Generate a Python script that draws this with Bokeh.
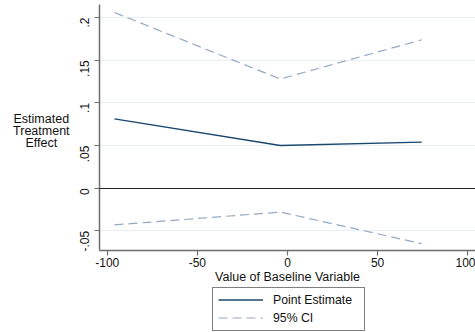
import math
from bokeh.plotting import figure
from bokeh.models import (Range1d, FixedTicker, Legend, LegendItem, Grid, Label)
from bokeh.embed import file_html
from bokeh.resources import INLINE

# Data
baseline = [-96, -4, 74.5]
point_estimate = [0.0813, 0.050, 0.054]
ci_upper = [0.206, 0.128, 0.174]
ci_lower = [-0.043, -0.028, -0.065]

y_ticks = [-0.05, 0.0, 0.05, 0.1, 0.15, 0.2]
y_tick_labels = ["-.05", "0", ".05", ".1", ".15", ".2"]
x_ticks = [-100, -50, 0, 50, 100]
x_tick_labels = ["-100", "-50", "0", "50", "100"]
y_title_lines = ["Estimated", "Treatment", "Effect"]

# plot region in data units, plus room to the left (axis labels) and below (legend)
X_MIN, X_MAX = -104.3, 104.3
X_FRAME_LEFT = -159.22
Y_FRAME_TOP, Y_TOP, Y_AXIS = 0.22005, 0.21536, -0.07304
Y_FRAME_BOTTOM = -0.16917

FONT = "Liberation Sans"
NAVY = "#1a476f"
CI_COL = "#93a9c2"
AXIS_COL = "#6e6e6e"

p = figure(width=475, height=332, output_backend="svg", toolbar_location=None,
           x_range=Range1d(X_FRAME_LEFT, X_MAX), y_range=Range1d(Y_FRAME_BOTTOM, Y_FRAME_TOP),
           min_border_left=0, min_border_right=0, min_border_top=0, min_border_bottom=0)
p.outline_line_color = None
p.background_fill_color = "white"
p.border_fill_color = "white"

# grid
p.xgrid.visible = False
yg = p.ygrid[0]
yg.ticker = FixedTicker(ticks=[t for t in y_ticks if t != 0])
yg.grid_line_color = "#e6eff1"
yg.grid_line_width = 1
yg.cross_bounds = (X_MIN, X_MAX)

# zero line
zero = Grid(dimension=1, ticker=FixedTicker(ticks=[0]), grid_line_color="#222222",
            grid_line_width=1.2, cross_bounds=(X_MIN, X_MAX), level="guide")
p.add_layout(zero)

# axes
for ax in (p.xaxis[0], p.yaxis[0]):
    ax.axis_line_color = AXIS_COL
    ax.axis_line_width = 1.5
    ax.major_tick_line_color = AXIS_COL
    ax.major_tick_line_width = 1.2
    ax.major_tick_out = 5
    ax.major_tick_in = 0
    ax.minor_tick_line_color = None
    ax.major_label_text_font = FONT
    ax.major_label_text_font_size = "12px"
    ax.major_label_text_color = "#111111"
    ax.axis_label_text_font = FONT
    ax.axis_label_text_font_size = "12.5px"
    ax.axis_label_text_font_style = "normal"
    ax.axis_label_text_color = "#111111"

xax = p.xaxis[0]
xax.ticker = FixedTicker(ticks=x_ticks)
xax.major_label_overrides = {t: l for t, l in zip(x_ticks, x_tick_labels)}
xax.fixed_location = Y_AXIS
xax.bounds = (X_MIN, X_MAX)
xax.axis_label = "Value of Baseline Variable"
xax.major_label_standoff = 2
xax.axis_label_standoff = 0

yax = p.yaxis[0]
yax.ticker = FixedTicker(ticks=y_ticks)
yax.major_label_overrides = {t: l for t, l in zip(y_ticks, y_tick_labels)}
yax.fixed_location = X_MIN
yax.bounds = (Y_AXIS, Y_TOP)
yax.major_label_orientation = math.pi / 2
yax.major_label_standoff = 10

# y title: three centred lines (screen units measured from the frame's bottom-left)
for i, line in enumerate(y_title_lines):
    p.add_layout(Label(x=40.8, y=213.5 - 12 * i, x_units="screen", y_units="screen",
                       text=line, text_align="center", text_baseline="alphabetic",
                       text_font=FONT, text_font_size="12.5px", text_color="#111111"))

r_pe = p.line(baseline, point_estimate, line_color=NAVY, line_width=1.4)
r_up = p.line(baseline, ci_upper, line_color=CI_COL, line_width=1.2, line_dash="9 5")
p.line(baseline, ci_lower, line_color=CI_COL, line_width=1.2, line_dash="9 5")

legend = Legend(items=[LegendItem(label="Point Estimate", renderers=[r_pe]),
                       LegendItem(label="95% CI", renderers=[r_up])],
                location=(212, 1.5), orientation="vertical",
                border_line_color="black", border_line_width=1,
                background_fill_color="white", background_fill_alpha=1,
                padding=5, spacing=4, margin=0,
                glyph_width=45, glyph_height=13, label_height=13, label_width=86,
                label_standoff=10,
                label_text_font=FONT, label_text_font_size="12.25px",
                label_text_color="#111111")
p.add_layout(legend, "center")

open("out.html", "w").write(file_html(p, INLINE))
